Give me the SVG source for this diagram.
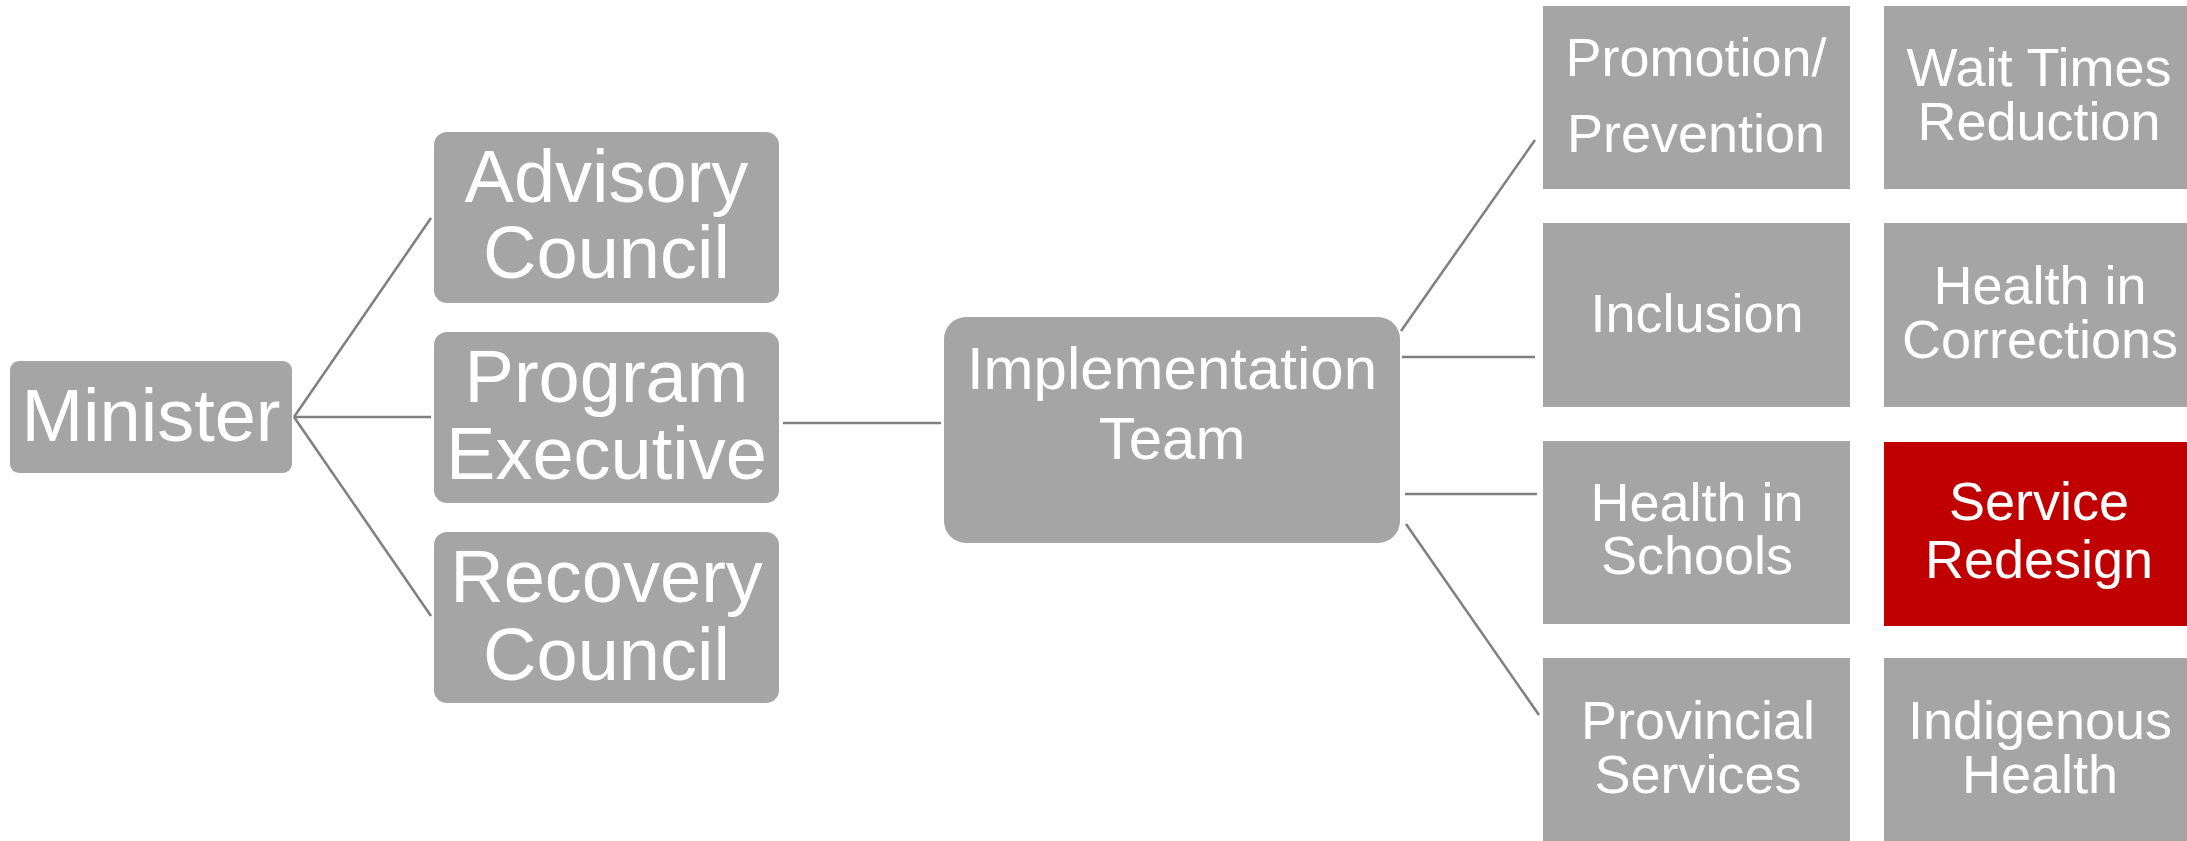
<svg xmlns="http://www.w3.org/2000/svg" width="2187" height="841" viewBox="0 0 2187 841">
<style>
.box{fill:#A5A5A5}
.red{fill:#C00000}
.t{font-family:"Liberation Sans",Arial,sans-serif;fill:#FFFFFF;text-anchor:middle}
.l{font-size:74px}
.m{font-size:60px}
.s{font-size:54px}
.c{stroke:#7F7F7F;stroke-width:2.5;fill:none}
</style>
<rect width="2187" height="841" fill="#FFFFFF"/>
<g id="connectors">
<line class="c" x1="294" y1="417" x2="431" y2="218"/>
<line class="c" x1="294" y1="417" x2="431" y2="417"/>
<line class="c" x1="294" y1="417" x2="431" y2="616"/>
<line class="c" x1="783" y1="423" x2="941" y2="423"/>
<line class="c" x1="1401" y1="331" x2="1535" y2="140"/>
<line class="c" x1="1402" y1="357" x2="1535" y2="357"/>
<line class="c" x1="1405" y1="494" x2="1537" y2="494"/>
<line class="c" x1="1406" y1="524" x2="1539" y2="715"/>
</g>
<g id="minister">
<rect class="box" x="10" y="361" width="282" height="112" rx="9"/>
<text class="t l" x="151" y="441">Minister</text>
</g>
<g id="advisory">
<rect class="box" x="434" y="132" width="345" height="171" rx="13"/>
<text class="t l" x="606.5" y="202">Advisory</text>
<text class="t l" x="606.5" y="278">Council</text>
</g>
<g id="program">
<rect class="box" x="434" y="332" width="345" height="171" rx="13"/>
<text class="t l" x="606.5" y="402">Program</text>
<text class="t l" x="606.5" y="479">Executive</text>
</g>
<g id="recovery">
<rect class="box" x="434" y="532" width="345" height="171" rx="13"/>
<text class="t l" x="606.5" y="602">Recovery</text>
<text class="t l" x="606.5" y="680">Council</text>
</g>
<g id="implementation">
<rect class="box" x="944" y="317" width="456" height="226" rx="22"/>
<text class="t m" x="1172" y="389">Implementation</text>
<text class="t m" x="1172" y="459">Team</text>
</g>
<g id="promotion">
<rect class="box" x="1543" y="6" width="307" height="183"/>
<text class="t s" x="1696" y="76">Promotion/</text>
<text class="t s" x="1696" y="152">Prevention</text>
</g>
<g id="waittimes">
<rect class="box" x="1884" y="6" width="310" height="183"/>
<text class="t s" x="2039" y="86">Wait Times</text>
<text class="t s" x="2039" y="140">Reduction</text>
</g>
<g id="inclusion">
<rect class="box" x="1543" y="223" width="307" height="184"/>
<text class="t s" x="1697" y="332">Inclusion</text>
</g>
<g id="corrections">
<rect class="box" x="1884" y="223" width="310" height="184"/>
<text class="t s" x="2040" y="304">Health in</text>
<text class="t s" x="2040" y="358">Corrections</text>
</g>
<g id="schools">
<rect class="box" x="1543" y="441" width="307" height="183"/>
<text class="t s" x="1697" y="521">Health in</text>
<text class="t s" x="1697" y="574">Schools</text>
</g>
<g id="redesign">
<rect class="red" x="1884" y="442" width="310" height="184"/>
<text class="t s" x="2039" y="520">Service</text>
<text class="t s" x="2039" y="578">Redesign</text>
</g>
<g id="provincial">
<rect class="box" x="1543" y="658" width="307" height="190"/>
<text class="t s" x="1698" y="739">Provincial</text>
<text class="t s" x="1698" y="793">Services</text>
</g>
<g id="indigenous">
<rect class="box" x="1884" y="658" width="310" height="190"/>
<text class="t s" x="2040" y="739">Indigenous</text>
<text class="t s" x="2040" y="793">Health</text>
</g>
</svg>
